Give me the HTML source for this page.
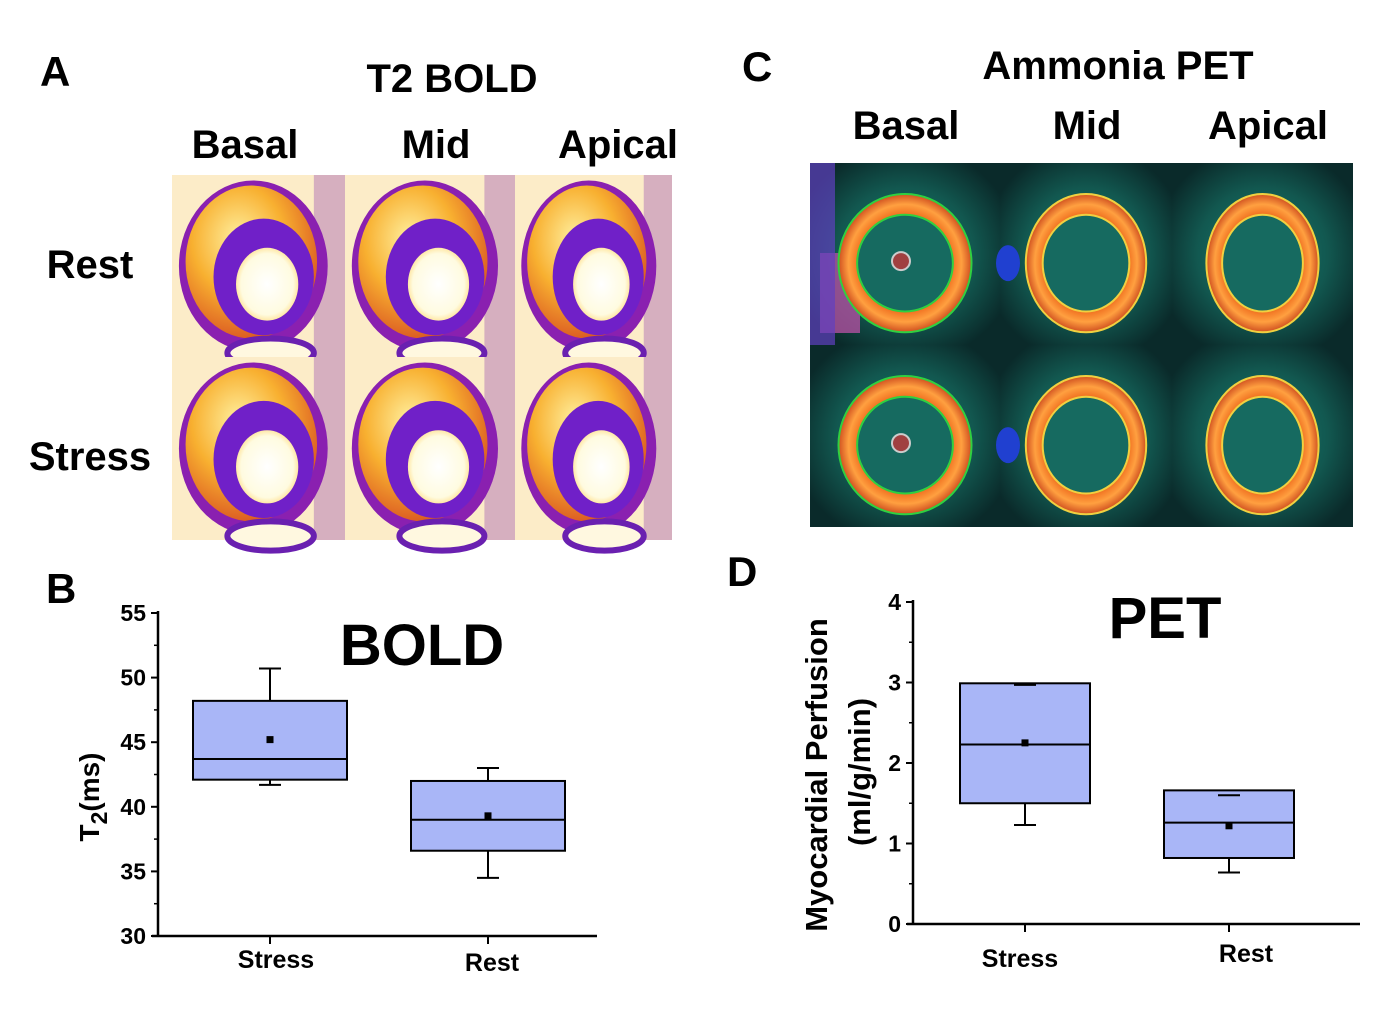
<!DOCTYPE html>
<html><head><meta charset="utf-8">
<style>
html,body{margin:0;padding:0;background:#fff;}
svg{display:block;font-family:"Liberation Sans",Arial,sans-serif;}
</style></head>
<body>
<svg id="fig" width="1393" height="1014" viewBox="0 0 1393 1014" xmlns="http://www.w3.org/2000/svg">
<defs>
  <radialGradient id="myo" cx="40%" cy="35%" r="70%">
    <stop offset="0" stop-color="#fff0a0"/><stop offset="0.5" stop-color="#f8b030"/><stop offset="1" stop-color="#d85020"/>
  </radialGradient>
  <radialGradient id="pool" cx="50%" cy="50%" r="60%">
    <stop offset="0" stop-color="#ffffff"/><stop offset="0.7" stop-color="#fffbe0"/><stop offset="1" stop-color="#ffd060"/>
  </radialGradient>
  <radialGradient id="petbg" cx="50%" cy="50%" r="60%">
    <stop offset="0" stop-color="#1a7a70"/><stop offset="0.6" stop-color="#125850"/><stop offset="1" stop-color="#0a2a2a"/>
  </radialGradient>
  <radialGradient id="petring" cx="50%" cy="50%" r="50%">
    <stop offset="0.55" stop-color="#1a6a60"/><stop offset="0.7" stop-color="#f07020"/><stop offset="0.85" stop-color="#ffa040"/><stop offset="1" stop-color="#d05020"/>
  </radialGradient>
</defs>

<text x="40" y="86" font-size="42" font-weight="bold">A</text>
<text x="452" y="92" font-size="40" font-weight="bold" text-anchor="middle">T2 BOLD</text>
<text x="245" y="158" font-size="40" font-weight="bold" text-anchor="middle">Basal</text>
<text x="436" y="158" font-size="40" font-weight="bold" text-anchor="middle">Mid</text>
<text x="618" y="158" font-size="40" font-weight="bold" text-anchor="middle">Apical</text>
<text x="90" y="278" font-size="40" font-weight="bold" text-anchor="middle">Rest</text>
<text x="90" y="470" font-size="40" font-weight="bold" text-anchor="middle">Stress</text>

<text x="742" y="81" font-size="42" font-weight="bold">C</text>
<text x="1118" y="79" font-size="40" font-weight="bold" text-anchor="middle">Ammonia PET</text>
<text x="906" y="139" font-size="40" font-weight="bold" text-anchor="middle">Basal</text>
<text x="1087" y="139" font-size="40" font-weight="bold" text-anchor="middle">Mid</text>
<text x="1268" y="139" font-size="40" font-weight="bold" text-anchor="middle">Apical</text>

<text x="46" y="603" font-size="42" font-weight="bold">B</text>
<text x="727" y="586" font-size="42" font-weight="bold">D</text>

<g id="mri"></g>
<g id="pet"></g>
<g id="chartB"></g>
<g id="chartD"></g>
</svg>
<script>
const NS="http://www.w3.org/2000/svg";
function mk(parent,tag,attrs,text){const e=document.createElementNS(NS,tag);for(const k in attrs)e.setAttribute(k,attrs[k]);if(text!==undefined)e.textContent=text;parent.appendChild(e);return e;}

const mri=document.getElementById('mri');
const mCols=[[172,345],[345,515],[515,672]];
const mRows=[[175,357],[357,540]];
mRows.forEach((r,ri)=>mCols.forEach((c,ci)=>{
  const w=c[1]-c[0],h=r[1]-r[0],cx=c[0]+w*0.47,cy=r[0]+h*0.5;
  const g=mk(mri,'g',{});
  
  
  mk(g,'rect',{x:c[0],y:r[0],width:w,height:h,fill:'#fcecc8'});
  mk(g,'rect',{x:c[0]+w*0.82,y:r[0],width:w*0.18,height:h,fill:'#9040b0',opacity:0.35});
  mk(g,'ellipse',{cx:cx,cy:cy,rx:w*0.43,ry:h*0.47,fill:'#8a20b0'});
  mk(g,'ellipse',{cx:cx-2,cy:cy-4,rx:w*0.38,ry:h*0.42,fill:'url(#myo)'});
  mk(g,'ellipse',{cx:cx+w*0.06,cy:cy+h*0.06,rx:w*0.29,ry:h*0.32,fill:'#7020c8'});
  mk(g,'ellipse',{cx:cx+w*0.08,cy:cy+h*0.1,rx:w*0.18,ry:h*0.2,fill:'url(#pool)'});
  mk(g,'ellipse',{cx:cx+w*0.1,cy:r[1]-4,rx:w*0.25,ry:h*0.08,fill:'#fff8e0',stroke:'#6a20b0','stroke-width':6});
}));

const pet=document.getElementById('pet');
const pCols=[[810,1000],[1000,1172],[1172,1353]];
const pRows=[[163,345],[345,527]];
pRows.forEach((r,ri)=>pCols.forEach((c,ci)=>{
  const w=c[1]-c[0],h=r[1]-r[0],cx=c[0]+w*0.5,cy=r[0]+h*0.55;
  const g=mk(pet,'g',{});
  
  
  mk(g,'rect',{x:c[0],y:r[0],width:w,height:h,fill:'url(#petbg)'});
  if(ci===0&&ri===0){mk(g,'rect',{x:c[0]+10,y:r[0]+90,width:40,height:80,fill:'#b050a0',opacity:0.8});mk(g,'rect',{x:c[0],y:r[0],width:25,height:h,fill:'#6040c0',opacity:0.7});}
  const rx=ci===2?w*0.31:w*0.35, ry=h*0.38;
  mk(g,'ellipse',{cx:cx,cy:cy,rx:rx,ry:ry,fill:'url(#petring)',stroke:ci===0?'#30d040':'#f0d040','stroke-width':2});
  mk(g,'ellipse',{cx:cx,cy:cy,rx:rx*0.72,ry:ry*0.7,fill:'#166a60',stroke:ci===0?'#30d040':'#f0d040','stroke-width':2});
  if(ci===0){mk(g,'circle',{cx:cx-4,cy:cy-2,r:9,fill:'#a04040',stroke:'#ccc','stroke-width':2});}
  if(ci===1){mk(g,'ellipse',{cx:c[0]+8,cy:cy,rx:12,ry:18,fill:'#2040d0'});}
}));

// ----- Chart B data -----
const bCats=["Stress","Rest"];
const bQ1=[42.1,36.6];
const bQ3=[48.2,42.0];
const bMed=[43.7,39.0];
const bMean=[45.2,39.3];
const bWhiskLo=[41.7,34.5];
const bWhiskHi=[50.7,43.0];
const bTicks=[30,35,40,45,50,55];

// ----- Chart D data -----
const dCats=["Stress","Rest"];
const dQ1=[1.50,0.82];
const dQ3=[2.99,1.66];
const dMed=[2.23,1.26];
const dMean=[2.25,1.22];
const dWhiskLo=[1.23,0.64];
const dWhiskHi=[2.97,1.60];
const dTicks=[0,1,2,3,4];

function boxChart(gid,o){
  const g=document.getElementById(gid);
  const y=v=>o.y0-(v-o.vmin)/(o.vmax-o.vmin)*(o.y0-o.y1);
  const x=i=>o.xc[i];
  const ya=mk(g,'line',{x1:o.ax,y1:o.y1-2,x2:o.ax,y2:o.y0,stroke:'#000','stroke-width':2.5});
  
  const xa=mk(g,'line',{x1:o.ax-6,y1:o.y0,x2:o.xend,y2:o.y0,stroke:'#000','stroke-width':2.5});
  
  o.ticks.forEach((t,i)=>{
    mk(g,'line',{x1:o.ax-7,y1:y(t),x2:o.ax,y2:y(t),stroke:'#000','stroke-width':2});
    if(i<o.ticks.length-1){const m=(t+o.ticks[i+1])/2;mk(g,'line',{x1:o.ax-4,y1:y(m),x2:o.ax,y2:y(m),stroke:'#000','stroke-width':1.5});}
    const tl=mk(g,'text',{x:o.ax-12,y:y(t)+8,'font-size':23,'font-weight':'bold','text-anchor':'end'},String(t));
    
  });
  o.cats.forEach((c,i)=>{
    mk(g,'line',{x1:x(i),y1:o.y0,x2:x(i),y2:o.y0+8,stroke:'#000','stroke-width':2});
    const cl=mk(g,'text',{x:x(i)+o.lblDx[i],y:o.y0+o.lblDy[i],'font-size':25,'font-weight':'bold','text-anchor':'middle'},c);
    
    const hw=o.bw/2;
    const wl=mk(g,'line',{x1:x(i),y1:y(o.wlo[i]),x2:x(i),y2:y(o.whi[i]),stroke:'#000','stroke-width':2});
    
    [o.wlo[i],o.whi[i]].forEach(v=>{mk(g,'line',{x1:x(i)-11,y1:y(v),x2:x(i)+11,y2:y(v),stroke:'#000','stroke-width':2});});
    const b=mk(g,'rect',{x:x(i)-hw,y:y(o.q3[i]),width:o.bw,height:y(o.q1[i])-y(o.q3[i]),fill:'#a9b6f7',stroke:'#000','stroke-width':2});
    
    if(o.whi[i]<o.q3[i]){mk(g,'line',{x1:x(i)-11,y1:y(o.whi[i]),x2:x(i)+11,y2:y(o.whi[i]),stroke:'#000','stroke-width':2});}
    if(o.wlo[i]>o.q1[i]){mk(g,'line',{x1:x(i)-11,y1:y(o.wlo[i]),x2:x(i)+11,y2:y(o.wlo[i]),stroke:'#000','stroke-width':2});}
    const md=mk(g,'line',{x1:x(i)-hw,y1:y(o.med[i]),x2:x(i)+hw,y2:y(o.med[i]),stroke:'#000','stroke-width':2});
    
    const mn=mk(g,'rect',{x:x(i)-3.5,y:y(o.mean[i])-3.5,width:7,height:7,fill:'#000'});
    
  });
}

boxChart('chartB',{ax:158,y0:936,y1:613,vmin:30,vmax:55,xend:597,xc:[270,488],bw:154,cats:bCats,q1:bQ1,q3:bQ3,med:bMed,mean:bMean,wlo:bWhiskLo,whi:bWhiskHi,ticks:bTicks,lblDx:[6,4],lblDy:[32,35]});
boxChart('chartD',{ax:913,y0:924,y1:602,vmin:0,vmax:4,xend:1360,xc:[1025,1229],bw:130,cats:dCats,q1:dQ1,q3:dQ3,med:dMed,mean:dMean,wlo:dWhiskLo,whi:dWhiskHi,ticks:dTicks,lblDx:[-5,17],lblDy:[43,38]});

const gB=document.getElementById('chartB');
const tB=mk(gB,'text',{x:422,y:665,'font-size':58,'font-weight':'bold','text-anchor':'middle'},'BOLD');

const yB=mk(gB,'text',{x:0,y:0,'font-size':28,'font-weight':'bold','text-anchor':'middle',transform:'translate(99,797) rotate(-90)'});

mk(yB,'tspan',{},'T');mk(yB,'tspan',{dy:8,'font-size':23},'2');mk(yB,'tspan',{dy:-8},'(ms)');

const gD=document.getElementById('chartD');
const tD=mk(gD,'text',{x:1165,y:638,'font-size':58,'font-weight':'bold','text-anchor':'middle'},'PET');

const yD1=mk(gD,'text',{x:0,y:0,'font-size':31,'font-weight':'bold','text-anchor':'middle',transform:'translate(827,775) rotate(-90)'},'Myocardial Perfusion');

const yD2=mk(gD,'text',{x:0,y:0,'font-size':31,'font-weight':'bold','text-anchor':'middle',transform:'translate(870,772) rotate(-90)'},'(ml/g/min)');

</script>
</body></html>
